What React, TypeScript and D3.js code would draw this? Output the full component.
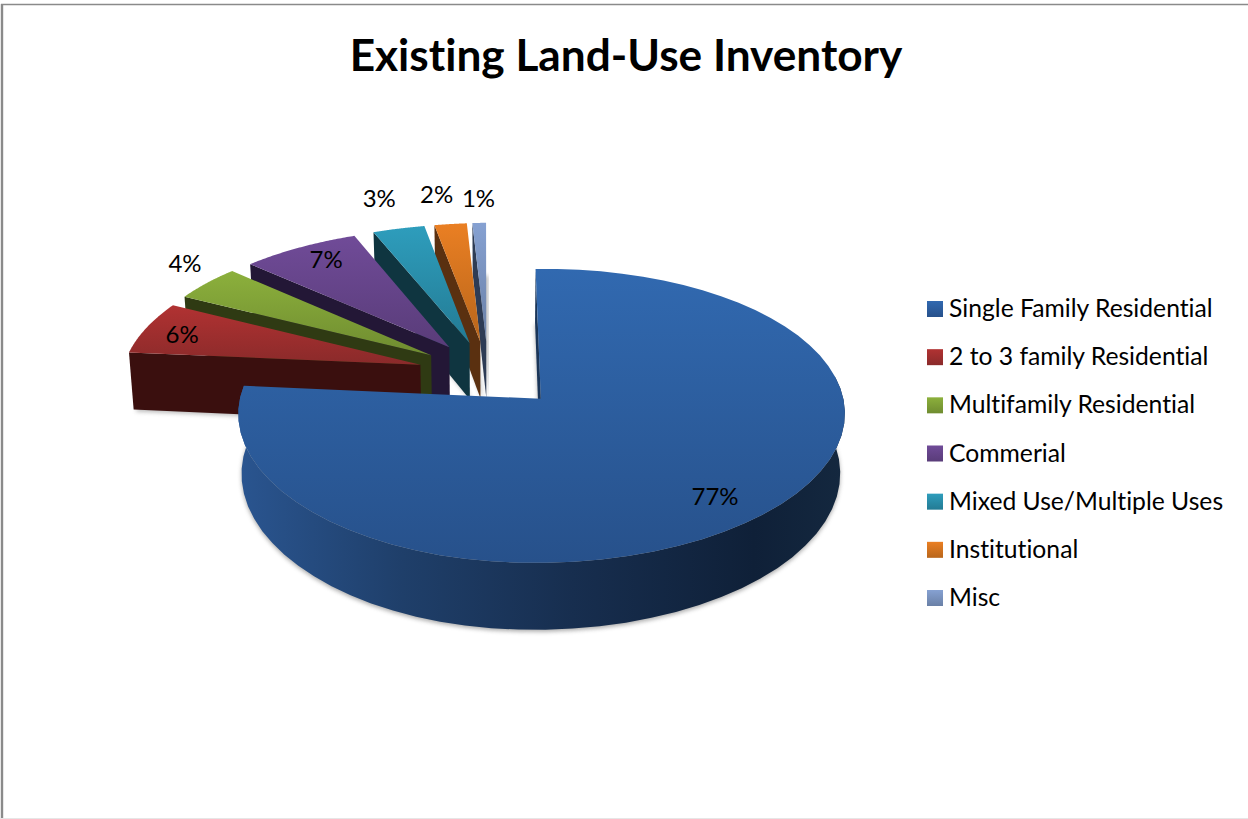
import * as d3 from "d3"

const title = "Existing Land-Use Inventory"
const categories = [
  "Single Family Residential",
  "2 to 3 family Residential",
  "Multifamily Residential",
  "Commerial",
  "Mixed Use/Multiple Uses",
  "Institutional",
  "Misc",
]
// The labels show them rounded
const values = [77, 6.1, 4.15, 7, 3.05, 1.9, 0.8]

// Colours: top of the slice, bottom of the slice, side wall
const topColors = ["#3169b0", "#b13232", "#8cb03c", "#704b98", "#2e9dbc", "#ea7f23", "#86a1d2"]
const bottomColors = ["#27518b", "#8a2a2a", "#6f8c30", "#593c79", "#237b94", "#b9661b", "#6a80a6"]
const wallColors = ["#1a3558", "#3a0f0e", "#2f3a13", "#231736", "#0f3540", "#5a3010", "#2e3c55"]

// Where each % label sits, along the slice's mid angle (pie radius = 1)
const labelRadius = [1.056, 1.1, 1.417, 1.086, 1.537, 1.528, 1.475]
const labelTurn = [2.4, -0.8, 3.3, 1.8, 1.1, 0.7, 2.0]

const width = 1248
const height = 819
const rad = (deg: number) => (deg * Math.PI) / 180

// Flat pie plane to screen, with the perspective of the 3D pie
const originX = 488
const originY = 374
const scaleX = 298
const scaleY = 139.3
const persp = -0.114
const skew = -93 // vanishing point is off to the right
const depth = 58
const explode = 0.24
const shrink = 0.987
const startDeg = -2
const mainWidth = 0.995
const mainShiftX = 4.5

function project(u: number, v: number, low = false, skewed = true): [number, number] {
  const w = 1 + persp * v
  const s = low ? shrink : 1
  const sk = skewed ? skew * (1 / w - 1) * Math.min(1, Math.max(0, 1 + u)) : 0
  return [originX + (scaleX * u * s) / w + sk, originY + (scaleY * v) / w + (low ? depth / w : 0)]
}

const pie = d3
  .pie<number>()
  .sort(null)
  .startAngle(rad(startDeg))
  .endAngle(rad(startDeg) + 2 * Math.PI)

const line = d3.line<[number, number]>()

const slices = pie(values).map((d, i) => {
  const mid = (d.startAngle + d.endAngle) / 2
  const isMain = i === 0
  const ou = explode * Math.sin(mid) + (isMain ? mainShiftX / scaleX : 0)
  const ov = -explode * Math.cos(mid)
  const ru = isMain ? mainWidth : 1
  const at = (a: number, low = false) => project(ou + ru * Math.sin(a), ov - Math.cos(a), low)
  const steps = d3.range(0, 61).map((k) => d.startAngle + ((d.endAngle - d.startAngle) * k) / 60)
  const surface = (low: boolean) =>
    (line([project(ou, ov, low), ...steps.map((a) => at(a, low))]) ?? "") + "Z"
  const startWall =
    line([at(d.startAngle), project(ou, ov), project(ou, ov, true), at(d.startAngle, true)]) + "Z"
  const front = steps.filter((a) => a > rad(80))
  const outerWall =
    line([...front.map((a) => at(a)), ...[...front].reverse().map((a) => at(a, true))]) + "Z"
  const la = mid + rad(labelTurn[i])
  const label = project(labelRadius[i] * Math.sin(la), -labelRadius[i] * Math.cos(la), false, false)
  return { i, top: surface(false), bottom: surface(true), startWall, outerWall, label, text: `${Math.round(values[i])}%` }
})

const legendY = d3.scaleLinear().domain([0, categories.length - 1]).range([309, 598])

export default function App() {
  const drawOrder = [...slices.slice(1)].reverse()
  const main = slices[0]
  return (
    <svg
      width={width}
      height={height}
      viewBox={`0 0 ${width} ${height}`}
      style={{
        position: "absolute",
        left: 0,
        top: 0,
        background: "#fff",
        fontFamily: "Lato, Carlito, sans-serif",
        fontVariantLigatures: "none",
      }}
    >
      <defs>
        {categories.map((c, i) => (
          <linearGradient key={c} id={`top-${i}`} x1="0" y1="0" x2="0" y2="1">
            <stop offset="0%" stopColor={topColors[i]} />
            <stop offset="100%" stopColor={bottomColors[i]} />
          </linearGradient>
        ))}
        <linearGradient id="main-wall" x1="0" y1="0" x2="1" y2="0">
          <stop offset="0%" stopColor="#2a5590" />
          <stop offset="27%" stopColor="#1f3f6a" />
          <stop offset="55%" stopColor="#172e4f" />
          <stop offset="85%" stopColor="#0f2038" />
          <stop offset="100%" stopColor="#14283f" />
        </linearGradient>
        <filter id="soft" x="-5%" y="-5%" width="110%" height="115%">
          <feGaussianBlur stdDeviation="2" />
        </filter>
      </defs>

      <line x1={2} x2={2} y1={4} y2={height} stroke="#8a8a8a" strokeWidth={2.4} />
      <line x1={1} x2={width} y1={4.5} y2={4.5} stroke="#8a8a8a" strokeWidth={1.4} />
      <line x1={1} x2={width} y1={818.5} y2={818.5} stroke="#e6e6e6" strokeWidth={1} />

      <text x={626} y={71} textAnchor="middle" fontSize={44.2} fontWeight={700} fill="#000">
        {title}
      </text>

      {drawOrder.map((s) => (
        <g key={s.i}>
          <path d={s.bottom} fill="#777" opacity={0.5} filter="url(#soft)" transform="translate(2,2)" />
          <path d={s.startWall} fill={wallColors[s.i]} />
          <path d={s.top} fill={`url(#top-${s.i})`} />
        </g>
      ))}

      <path d={main.bottom} fill="#666" opacity={0.55} filter="url(#soft)" transform="translate(0,2)" />
      <path d={main.startWall} fill={wallColors[0]} />
      <path d={main.outerWall} fill="url(#main-wall)" />
      <path d={main.top} fill="url(#top-0)" />

      {slices.map((s) => (
        <text
          key={s.i}
          x={s.label[0]}
          y={s.label[1]}
          dy="0.36em"
          textAnchor="middle"
          fontSize={24}
          fill="#000"
        >
          {s.text}
        </text>
      ))}

      {categories.map((c, i) => (
        <g key={c}>
          <rect x={927} y={legendY(i) - 8} width={16} height={16} fill={`url(#top-${i})`} />
          <text x={949} y={legendY(i) - 0.8} dy="0.36em" fontSize={24.7} fill="#000">
            {c}
          </text>
        </g>
      ))}
    </svg>
  )
}
